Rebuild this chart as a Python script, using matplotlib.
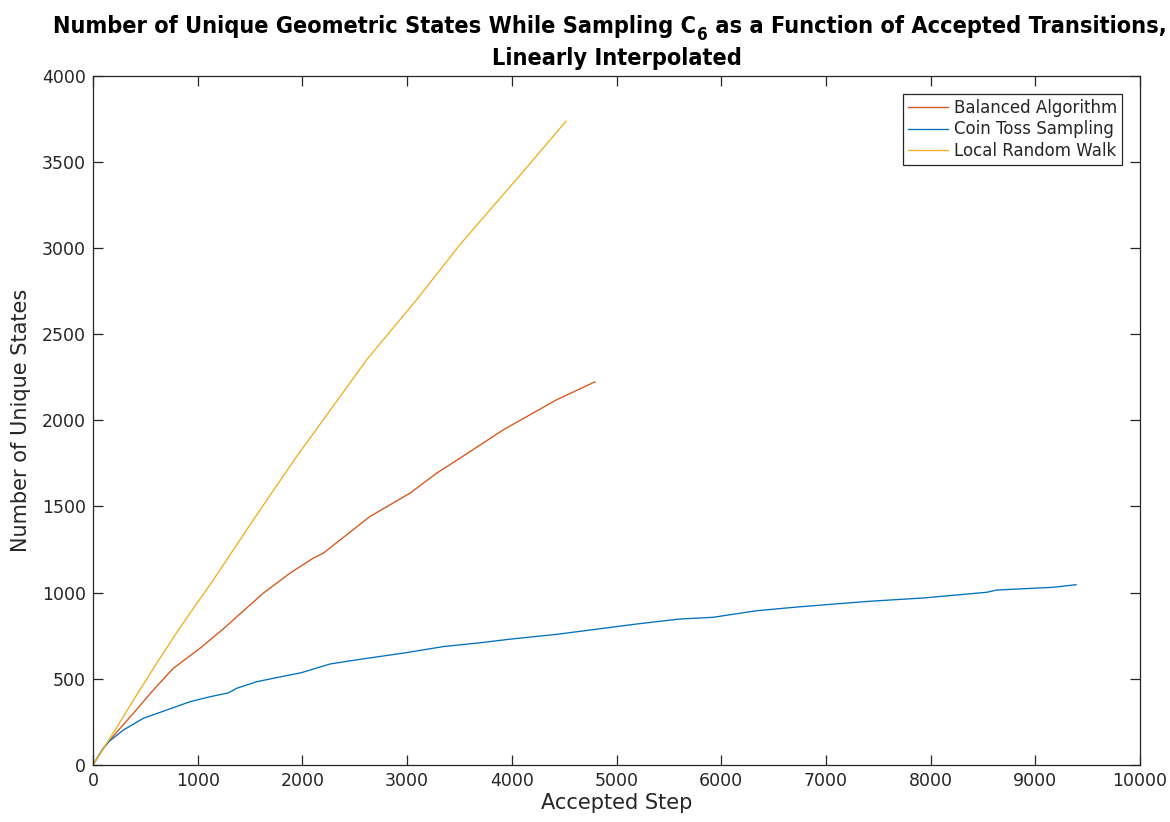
import matplotlib
matplotlib.use("Agg")
import matplotlib.pyplot as plt
from matplotlib import font_manager
from matplotlib.font_manager import FontProperties

# Accepted-step / unique-state samples for each sampler
balanced_steps = [0, 98, 226, 385, 576, 767, 1022, 1245, 1340, 1627, 1882, 2104, 2200,
                  2646, 3028, 3282, 3505, 3920, 4429, 4795]
balanced_states = [0, 98, 190, 300, 435, 561, 677, 790, 842, 997, 1113, 1200, 1229,
                   1442, 1577, 1693, 1780, 1945, 2119, 2223]

coin_steps = [0, 80, 150, 290, 481, 704, 926, 1117, 1292, 1372, 1563, 1722, 1993, 2264,
              2518, 2996, 3346, 3696, 3983, 4429, 5193, 5607, 5925, 6338, 6753, 7421,
              7931, 8536, 8631, 9172, 9389]
coin_states = [0, 80, 135, 203, 271, 319, 367, 396, 418, 445, 483, 503, 536, 586,
               610, 652, 687, 709, 730, 758, 818, 847, 857, 895, 918, 950,
               969, 1002, 1015, 1031, 1046]

walk_steps = [0, 200, 400, 608, 815, 1149, 1531, 1945, 2200, 2614, 3092, 3505, 4110, 4518]
walk_states = [0, 192, 390, 590, 783, 1074, 1422, 1790, 2003, 2351, 2700, 3019, 3444, 3735]

series_labels = ["Balanced Algorithm", "Coin Toss Sampling", "Local Random Walk"]
series_colors = ["#D95319", "#0072BD", "#EDB120"]

x_ticks = list(range(0, 10001, 1000))
y_ticks = list(range(0, 4001, 500))

title_head = "Number of Unique Geometric States While Sampling C"
title_sub = "6"
title_tail = " as a Function of Accepted Transitions,"
title_line2 = "Linearly Interpolated"


def pick_title_font():
    """Prefer a condensed bold sans face; fall back to DejaVu Sans Bold."""
    cands = []
    for f in font_manager.fontManager.ttflist:
        st = str(f.stretch).lower()
        name = f.name.lower()
        fn = f.fname.lower()
        wt = f.weight if isinstance(f.weight, int) else (700 if "bold" in str(f.weight) else 400)
        condensed = ("condensed" in st or "narrow" in name or "condensed" in name
                     or "condensed" in fn or "narrow" in fn)
        upright = ("italic" not in f.style and "oblique" not in f.style
                   and "oblique" not in fn and "italic" not in fn)
        if condensed and wt >= 600 and upright:
            pri = 0 if "dejavu" in name else (1 if "liberation" in name else 2)
            if "extra" in st or "ultra" in st:
                pri += 5
            cands.append((pri, f.fname))
    if cands:
        cands.sort()
        return cands[0][1]
    return None


title_file = pick_title_font()

plt.rcParams["font.family"] = "DejaVu Sans"

W, H = 1170, 822
fig = plt.figure(figsize=(W / 100, H / 100), dpi=100)
left, right, top, bottom = 93, 1140, 75.5, 765
ax = fig.add_axes([left / W, 1 - bottom / H, (right - left) / W, (bottom - top) / H])

ink = "#262626"
for xs, ys, lab, col in zip([balanced_steps, coin_steps, walk_steps],
                            [balanced_states, coin_states, walk_states],
                            series_labels, series_colors):
    ax.plot(xs, ys, color=col, lw=0.95, label=lab)

ax.set_xlim(0, 10000)
ax.set_ylim(0, 4000)
ax.set_xticks(x_ticks)
ax.set_yticks(y_ticks)
ax.tick_params(direction="in", length=7, width=0.9, colors=ink, labelsize=12.5,
               top=True, right=True, pad=5)
for s in ax.spines.values():
    s.set_color(ink)
    s.set_linewidth(0.9)

ax.set_xlabel("Accepted Step", fontsize=15, color=ink, labelpad=2)
ax.set_ylabel("Number of Unique States", fontsize=15, color=ink, labelpad=8)

leg = ax.legend(loc="upper right", bbox_to_anchor=(1 - 18 / 1047, 1 - 18.5 / 689.5),
                borderaxespad=0, fontsize=12, frameon=True, fancybox=False,
                edgecolor=ink, framealpha=1, handlelength=2.4, handletextpad=0.35,
                borderpad=0.3, labelspacing=0.2)
leg.get_frame().set_linewidth(0.9)
for t in leg.get_texts():
    t.set_color(ink)


# --- two-line bold title with a subscript, laid out in pixel space ---
def tfont(size):
    if title_file:
        return FontProperties(fname=title_file, size=size)
    return FontProperties(family="DejaVu Sans", weight="bold", size=size)


renderer = fig.canvas.get_renderer()


def width_px(s, size):
    t = fig.text(0, 0, s, fontproperties=tfont(size))
    w = t.get_window_extent(renderer).width
    t.remove()
    return w


base = 16.0
sub_ratio = 0.72
w_full = (width_px(title_head, base) + width_px(title_sub, base * sub_ratio)
          + width_px(title_tail, base))
target = 1116.0
size = min(base * target / w_full, 17.5)

w_head = width_px(title_head, size)
w_sub = width_px(title_sub, size * sub_ratio)
w_tail = width_px(title_tail, size)
total = w_head + w_sub + w_tail + 2
cx1 = 610.0
cx2 = (left + right) / 2
x0 = cx1 - total / 2
base1 = 32.5
base2 = 65.0


def fx(px):
    return px / W


def fy(py):
    return 1 - py / H


fig.text(fx(x0), fy(base1), title_head, fontproperties=tfont(size), va="baseline",
         ha="left", color="black")
fig.text(fx(x0 + w_head + 1), fy(base1 + size * 0.45), title_sub,
         fontproperties=tfont(size * sub_ratio), va="baseline", ha="left", color="black")
fig.text(fx(x0 + w_head + w_sub + 2), fy(base1), title_tail, fontproperties=tfont(size),
         va="baseline", ha="left", color="black")
fig.text(fx(cx2), fy(base2), title_line2, fontproperties=tfont(size), va="baseline",
         ha="center", color="black")

fig.savefig("out.png", dpi=100)
